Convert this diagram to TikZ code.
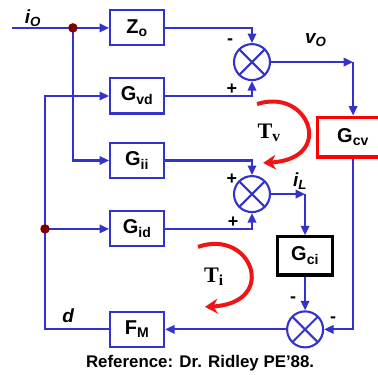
\documentclass[tikz,border=0pt]{standalone}
\usepackage{fontspec}
\setmainfont{Liberation Sans}
\newfontfamily\timesfont{Liberation Serif}
\usetikzlibrary{arrows.meta, positioning, calc}

\definecolor{lineblue}{RGB}{51,51,204}
\definecolor{loopred}{RGB}{240,20,20}
\definecolor{dotred}{RGB}{128,0,0}

\begin{document}
\begin{tikzpicture}[
    >={Triangle[length=9pt,width=8pt]},
    sig/.style={draw=lineblue, line width=2pt},
    blk/.style={draw=lineblue, line width=2pt, minimum width=1.8cm,
                minimum height=1.17cm, inner sep=0pt,
                font=\fontsize{19}{21}\selectfont\bfseries},
    sumj/.style={circle, draw=lineblue, line width=2pt, minimum size=1.2cm,
                 inner sep=0pt,
                 path picture={\draw[lineblue, line width=2pt]
                   (path picture bounding box.north west) -- (path picture bounding box.south east)
                   (path picture bounding box.north east) -- (path picture bounding box.south west);}},
    lbl/.style={font=\fontsize{18}{20}\selectfont\bfseries\itshape},
    sgn/.style={font=\fontsize{17}{19}\selectfont\bfseries},
    tlbl/.style={font=\fontsize{21}{23}\selectfont\timesfont\bfseries},
    looparrow/.style={draw=loopred, line width=3.8pt, -{Stealth[length=12pt,width=14pt]}}
  ]
  \useasboundingbox (0,0) rectangle (12.6,12.5);

  % Blocks
  \node[blk] (zo) at (4.57, 11.57) {Z\textsubscript{o}};
  \node[blk] (gvd) at (4.57, 9.3) {G\textsubscript{vd}};
  \node[blk] (gii) at (4.57, 7.15) {G\textsubscript{ii}};
  \node[blk] (gid) at (4.57, 4.87) {G\textsubscript{id}};
  \node[blk] (fm) at (4.57, 1.52) {F\textsubscript{M}};
  \node[blk, draw=red, line width=3pt, minimum width=2.4cm, minimum height=1.33cm]
    (gcv) at (11.77, 7.93) {G\textsubscript{cv}};
  \node[blk, draw=black, line width=3pt, minimum width=1.83cm, minimum height=1.27cm]
    (gci) at (10.17, 3.97) {G\textsubscript{ci}};

  % Summing junctions
  \node[sumj] (s1) at (8.4, 10.43) {};
  \node[sumj] (s2) at (8.4, 6.03) {};
  \node[sumj] (s3) at (10.17, 1.52) {};

  % Corners and branch points
  \coordinate (in) at (0.4, 11.57);
  \coordinate (jo) at (2.43, 11.57);
  \coordinate (vo) at (11.77, 10.43);
  \coordinate (il) at (10.17, 6.03);
  \coordinate (jd) at (1.5, 4.87);

  % Signals
  \draw[sig] (in) -- (jo);
  \draw[sig, ->] (jo) -- (zo);
  \draw[sig, ->] (jo) |- (gii);
  \draw[sig, ->] (zo) -| (s1);
  \draw[sig, ->] (gvd) -| (s1);
  \draw[sig, ->] (gii) -| (s2);
  \draw[sig, ->] (gid) -| (s2);
  \draw[sig, ->] (s1) -- (vo);
  \draw[sig, ->] (vo) -- (gcv);
  \draw[sig, ->] (s2) -- (il);
  \draw[sig, ->] (il) -- (gci);
  \draw[sig, ->] (gci) -- (s3);
  \draw[sig, ->] (gcv) |- (s3);
  \draw[sig, ->] (s3) -- (fm);
  \draw[sig, ->] (fm) -| (jd) |- (gvd);
  \draw[sig, ->] (jd) -- (gid);
  \fill[dotred] (jo) circle (4.5pt);
  \fill[dotred] (jd) circle (4.5pt);

  % Signal names
  \node[lbl] (lio) at (1.1, 11.9) {i\textsubscript{O}};
  \node[lbl] (lvo) at (10.53, 11.17) {v\textsubscript{O}};
  \node[lbl] (lil) at (10.0, 6.45) {i\textsubscript{L}};
  \node[lbl] (ld) at (2.27, 1.97) {d};

  % Signs
  \node[sgn] at (7.67, 11.1) {-};
  \node[sgn] at (7.73, 9.53) {+};
  \node[sgn] at (7.73, 6.53) {+};
  \node[sgn] at (7.77, 5.1) {+};
  \node[sgn] at (9.77, 2.5) {-};
  \node[sgn] at (11.1, 1.83) {-};

  % Loop gains
  \draw[looparrow] (8.57, 9.03) .. controls (10.3, 9.6) and (11.2, 7.2) .. (8.77, 7.07);
  \node[tlbl] (tv) at (8.97, 8.07) {T\textsubscript{v}};
  \draw[looparrow] (6.6, 4.27) .. controls (8.4, 4.9) and (9.3, 2.4) .. (6.83, 2.27);
  \node[tlbl] (ti) at (7.13, 3.27) {T\textsubscript{i}};

  \node[font=\fontsize{16}{18}\selectfont\bfseries] (ref) at (6.67, 0.4)
    {Reference: Dr. Ridley PE’88.};
\end{tikzpicture}
\end{document}
